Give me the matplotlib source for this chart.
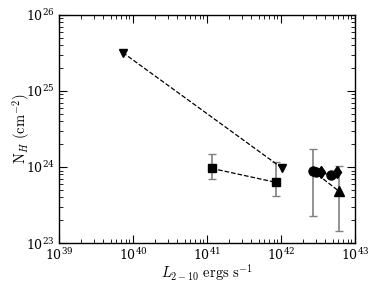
import matplotlib
matplotlib.use("Agg")
import matplotlib.pyplot as plt

plt.rcParams["mathtext.fontset"] = "cm"
plt.rcParams["font.family"] = "serif"
plt.rcParams["font.serif"] = ["DejaVu Serif"]

# ---------------------------------------------------------------------------
# Data
# ---------------------------------------------------------------------------
# downward triangles, dashed
tri_dn_x = [7.3e39, 1.02e42]
tri_dn_y = [3.2e25, 9.8e23]

# squares with error bars, dashed
sq_x = [1.16e41, 8.5e41]
sq_y = [9.6e23, 6.3e23]
sq_lo = [6.9e23, 4.2e23]
sq_hi = [1.47e24, 1.16e24]

# circle -> upward triangle, dashed
cl_x = [2.7e42, 6.1e42]
cl_y = [8.9e23, 4.8e23]
cl_lo = [2.27e23, 1.44e23]
cl_hi = [1.71e24, 1.03e24]

# cluster joined by a solid line
grp_x = [2.95e42, 3.5e42, 4.7e42, 5.8e42]
grp_y = [8.7e23, 8.5e23, 7.8e23, 8.5e23]
grp_markers = ["o", "d", "o", "d"]


def asym(y, lo, hi):
    return [[v - l for v, l in zip(y, lo)], [h - v for v, h in zip(y, hi)]]


fig = plt.figure(figsize=(3.82, 2.86), dpi=100)
ax = fig.add_axes([0.154, 0.150, 0.775, 0.798])

ax.errorbar(sq_x, sq_y, yerr=asym(sq_y, sq_lo, sq_hi), fmt="none",
            ecolor="0.5", elinewidth=1.2, capsize=3)
ax.errorbar(cl_x, cl_y, yerr=asym(cl_y, cl_lo, cl_hi), fmt="none",
            ecolor="0.5", elinewidth=1.2, capsize=3)

ax.plot(tri_dn_x, tri_dn_y, "k--", lw=0.9)
ax.plot(tri_dn_x, tri_dn_y, "kv", ms=6, ls="none")

ax.plot(sq_x, sq_y, "k--", lw=0.9)
ax.plot(sq_x, sq_y, "ks", ms=6, ls="none")

ax.plot(cl_x, cl_y, "k--", lw=0.9)
ax.plot(cl_x[:1], cl_y[:1], "ko", ms=6.5, ls="none")
ax.plot(cl_x[1:], cl_y[1:], "k^", ms=6.5, ls="none")

ax.plot(grp_x, grp_y, "k-", lw=0.9)
for gx, gy, m in zip(grp_x, grp_y, grp_markers):
    ax.plot([gx], [gy], color="k", marker=m, ms=6.5, ls="none")

ax.set_xscale("log")
ax.set_yscale("log")
ax.set_xlim(1e39, 1e43)
ax.set_ylim(1e23, 1e26)

ax.tick_params(which="both", direction="in", top=True, right=True,
               labelsize=9, pad=3)
ax.tick_params(which="major", length=6)
ax.tick_params(which="minor", length=3)
for s in ax.spines.values():
    s.set_linewidth(1.0)

ax.set_xlabel(r"$L_{2-10}\ \mathrm{ergs\ s^{-1}}$", fontsize=10.5)
ax.set_ylabel(r"$\mathrm{N}_H\ (\mathrm{cm}^{-2})$", fontsize=10.5)
ax.xaxis.set_label_coords(0.5, -0.085)
ax.yaxis.set_label_coords(-0.09, 0.5)

fig.savefig("out.png", dpi=100)
